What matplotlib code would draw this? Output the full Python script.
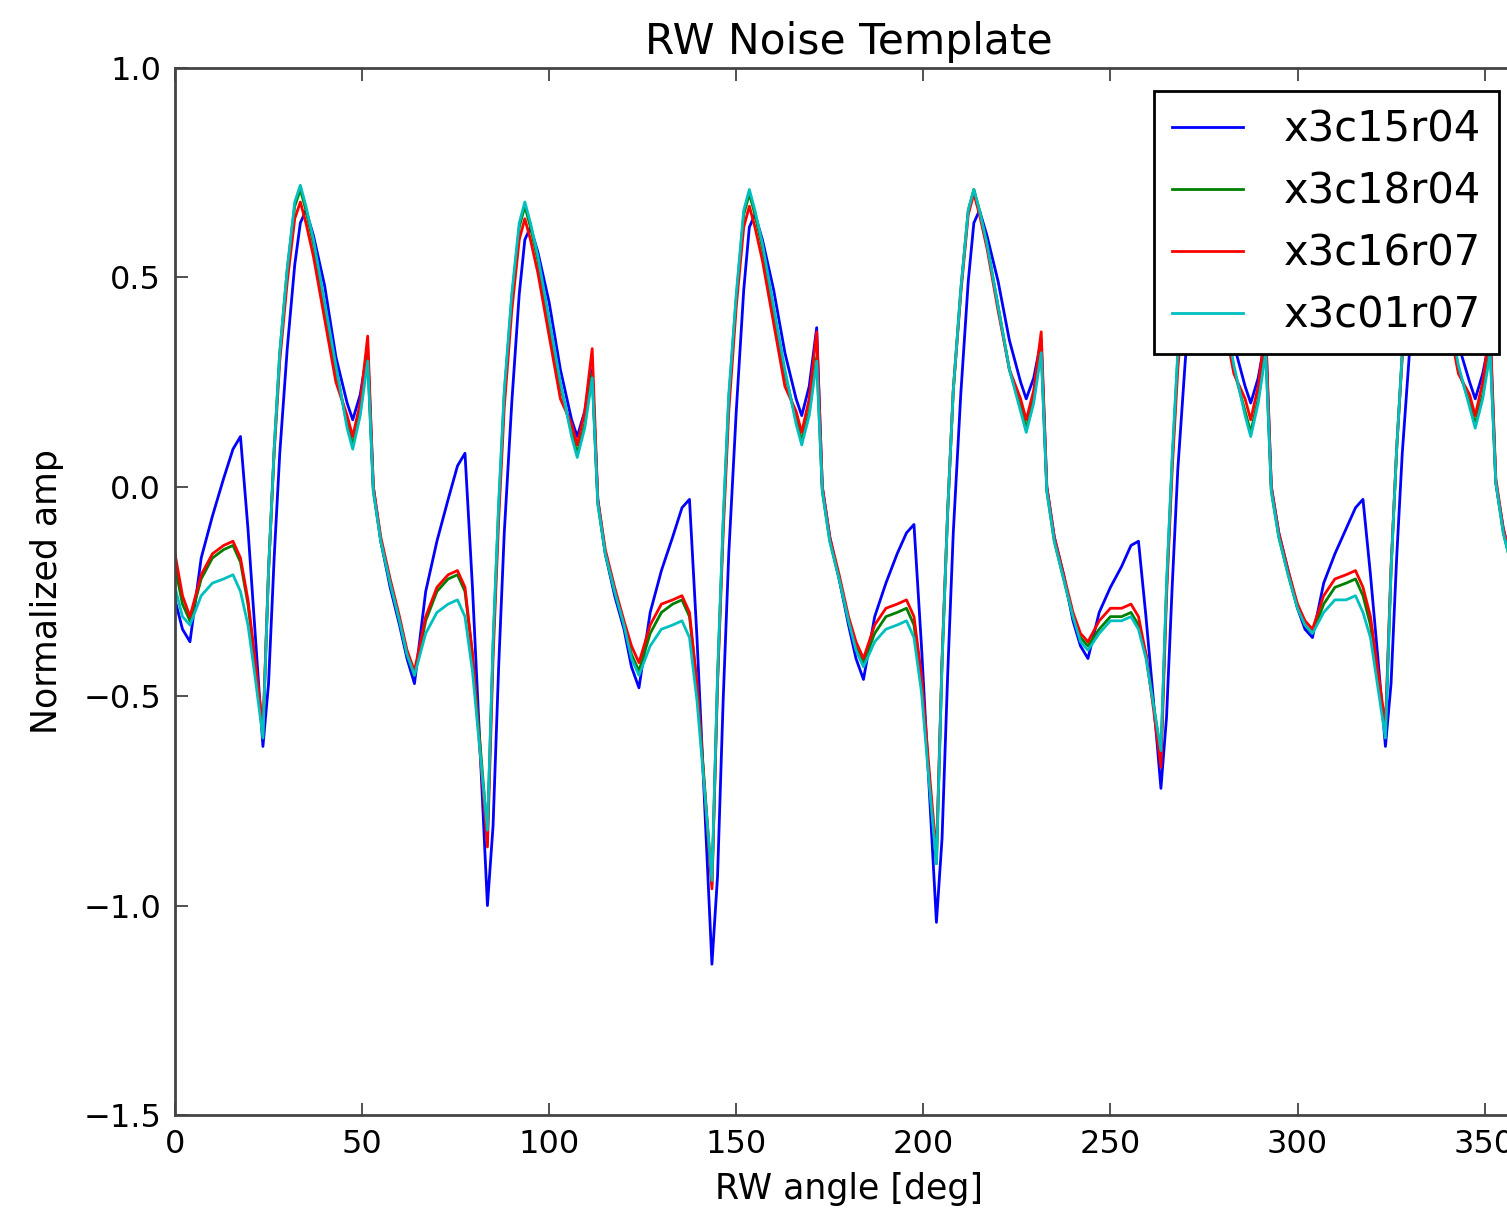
import matplotlib
matplotlib.use("Agg")
import matplotlib.pyplot as plt

# RW angle samples [deg]
angle = [
    0, 2, 4, 7, 10, 13, 15.5, 17.5, 19.5, 21.5, 23.5, 25, 26.5, 28, 30, 32, 33.5, 35, 37, 40, 43, 46, 47.5, 49.5, 51.5, 53, 55, 57.5,
    60, 62, 64, 67, 70, 73, 75.5, 77.5, 79.5, 81.5, 83.5, 85, 86.5, 88, 90, 92, 93.5, 95, 97, 100, 103, 106, 107.5, 109.5, 111.5, 113, 115, 117.5,
    120, 122, 124, 127, 130, 133, 135.5, 137.5, 139.5, 141.5, 143.5, 145, 146.5, 148, 150, 152, 153.5, 155, 157, 160, 163, 166, 167.5, 169.5, 171.5, 173, 175, 177.5,
    180, 182, 184, 187, 190, 193, 195.5, 197.5, 199.5, 201.5, 203.5, 205, 206.5, 208, 210, 212, 213.5, 215, 217, 220, 223, 226, 227.5, 229.5, 231.5, 233, 235, 237.5,
    240, 242, 244, 247, 250, 253, 255.5, 257.5, 259.5, 261.5, 263.5, 265, 266.5, 268, 270, 272, 273.5, 275, 277, 280, 283, 286, 287.5, 289.5, 291.5, 293, 295, 297.5,
    300, 302, 304, 307, 310, 313, 315.5, 317.5, 319.5, 321.5, 323.5, 325, 326.5, 328, 330, 332, 333.5, 335, 337, 340, 343, 346, 347.5, 349.5, 351.5, 353, 355, 357.5,
    360,
]

x3c15r04 = [
    -0.27, -0.34, -0.37, -0.17, -0.07, 0.02, 0.09, 0.12, -0.10, -0.36, -0.62, -0.47, -0.17, 0.08, 0.33, 0.53, 0.63, 0.66, 0.60, 0.48, 0.31, 0.20, 0.16, 0.22, 0.33, 0.00, -0.13, -0.24,
    -0.33, -0.41, -0.47, -0.25, -0.13, -0.03, 0.05, 0.08, -0.24, -0.62, -1.00, -0.81, -0.43, -0.11, 0.20, 0.46, 0.59, 0.62, 0.56, 0.44, 0.28, 0.16, 0.12, 0.18, 0.28, -0.03, -0.16, -0.26,
    -0.34, -0.43, -0.48, -0.30, -0.20, -0.12, -0.05, -0.03, -0.36, -0.75, -1.14, -0.93, -0.51, -0.16, 0.18, 0.47, 0.62, 0.65, 0.59, 0.47, 0.32, 0.21, 0.17, 0.24, 0.38, 0.00, -0.12, -0.22,
    -0.33, -0.41, -0.46, -0.31, -0.23, -0.16, -0.11, -0.09, -0.38, -0.71, -1.04, -0.84, -0.45, -0.11, 0.22, 0.49, 0.63, 0.66, 0.60, 0.49, 0.35, 0.25, 0.21, 0.26, 0.35, 0.00, -0.12, -0.21,
    -0.32, -0.38, -0.41, -0.30, -0.24, -0.19, -0.14, -0.13, -0.31, -0.51, -0.72, -0.55, -0.24, 0.04, 0.30, 0.52, 0.63, 0.66, 0.60, 0.48, 0.34, 0.24, 0.20, 0.26, 0.36, 0.00, -0.11, -0.20,
    -0.29, -0.34, -0.36, -0.23, -0.16, -0.10, -0.05, -0.03, -0.21, -0.41, -0.62, -0.47, -0.17, 0.08, 0.33, 0.53, 0.63, 0.66, 0.60, 0.48, 0.34, 0.25, 0.21, 0.27, 0.36, 0.01, -0.10, -0.19,
    -0.28,
]

x3c18r04 = [
    -0.19, -0.28, -0.32, -0.22, -0.17, -0.15, -0.14, -0.18, -0.28, -0.43, -0.59, -0.20, 0.09, 0.32, 0.52, 0.67, 0.71, 0.66, 0.58, 0.43, 0.28, 0.15, 0.10, 0.18, 0.31, -0.01, -0.13, -0.23,
    -0.32, -0.40, -0.45, -0.32, -0.25, -0.22, -0.21, -0.25, -0.40, -0.61, -0.83, -0.38, -0.05, 0.22, 0.45, 0.62, 0.67, 0.62, 0.54, 0.39, 0.24, 0.13, 0.08, 0.15, 0.27, -0.04, -0.16, -0.25,
    -0.33, -0.40, -0.44, -0.35, -0.30, -0.28, -0.27, -0.31, -0.47, -0.71, -0.95, -0.46, -0.09, 0.21, 0.45, 0.65, 0.70, 0.65, 0.57, 0.42, 0.27, 0.16, 0.11, 0.18, 0.31, -0.01, -0.13, -0.22,
    -0.32, -0.38, -0.42, -0.35, -0.31, -0.30, -0.29, -0.33, -0.47, -0.69, -0.90, -0.42, -0.06, 0.23, 0.47, 0.66, 0.71, 0.66, 0.58, 0.43, 0.28, 0.19, 0.14, 0.21, 0.33, -0.01, -0.13, -0.22,
    -0.31, -0.36, -0.38, -0.34, -0.31, -0.31, -0.30, -0.33, -0.40, -0.52, -0.64, -0.24, 0.06, 0.31, 0.51, 0.66, 0.71, 0.66, 0.58, 0.43, 0.28, 0.18, 0.13, 0.21, 0.33, -0.01, -0.12, -0.21,
    -0.29, -0.33, -0.35, -0.28, -0.24, -0.23, -0.22, -0.26, -0.33, -0.46, -0.59, -0.20, 0.09, 0.32, 0.52, 0.67, 0.71, 0.66, 0.58, 0.43, 0.28, 0.20, 0.15, 0.22, 0.33, 0.01, -0.11, -0.20,
    -0.28,
]

x3c16r07 = [
    -0.16, -0.26, -0.31, -0.21, -0.16, -0.14, -0.13, -0.17, -0.27, -0.42, -0.58, -0.20, 0.08, 0.30, 0.49, 0.64, 0.68, 0.63, 0.55, 0.40, 0.25, 0.17, 0.12, 0.20, 0.36, 0.00, -0.12, -0.22,
    -0.31, -0.39, -0.44, -0.31, -0.24, -0.21, -0.20, -0.24, -0.40, -0.63, -0.86, -0.41, -0.08, 0.19, 0.42, 0.59, 0.64, 0.59, 0.51, 0.36, 0.21, 0.15, 0.10, 0.18, 0.33, -0.03, -0.15, -0.24,
    -0.32, -0.38, -0.42, -0.33, -0.28, -0.27, -0.26, -0.30, -0.47, -0.72, -0.96, -0.47, -0.11, 0.18, 0.43, 0.62, 0.67, 0.62, 0.54, 0.39, 0.24, 0.18, 0.13, 0.21, 0.37, 0.00, -0.12, -0.21,
    -0.31, -0.37, -0.41, -0.33, -0.29, -0.28, -0.27, -0.31, -0.45, -0.67, -0.88, -0.41, -0.06, 0.23, 0.46, 0.65, 0.70, 0.65, 0.57, 0.42, 0.28, 0.21, 0.16, 0.23, 0.37, 0.00, -0.12, -0.21,
    -0.30, -0.35, -0.37, -0.32, -0.29, -0.29, -0.28, -0.31, -0.40, -0.53, -0.67, -0.26, 0.04, 0.28, 0.49, 0.64, 0.69, 0.64, 0.56, 0.41, 0.27, 0.21, 0.16, 0.24, 0.38, 0.00, -0.11, -0.20,
    -0.28, -0.32, -0.34, -0.26, -0.22, -0.21, -0.20, -0.24, -0.31, -0.44, -0.57, -0.19, 0.09, 0.31, 0.50, 0.65, 0.69, 0.64, 0.56, 0.41, 0.27, 0.22, 0.17, 0.25, 0.38, 0.02, -0.10, -0.19,
    -0.27,
]

x3c01r07 = [
    -0.24, -0.31, -0.33, -0.26, -0.23, -0.22, -0.21, -0.25, -0.33, -0.46, -0.60, -0.20, 0.09, 0.32, 0.52, 0.68, 0.72, 0.67, 0.59, 0.44, 0.29, 0.14, 0.09, 0.17, 0.30, -0.01, -0.13, -0.23,
    -0.32, -0.40, -0.45, -0.35, -0.30, -0.28, -0.27, -0.31, -0.44, -0.63, -0.82, -0.37, -0.04, 0.23, 0.46, 0.63, 0.68, 0.63, 0.55, 0.40, 0.25, 0.12, 0.07, 0.14, 0.26, -0.04, -0.16, -0.25,
    -0.33, -0.41, -0.45, -0.38, -0.34, -0.33, -0.32, -0.36, -0.51, -0.72, -0.94, -0.45, -0.08, 0.22, 0.46, 0.66, 0.71, 0.66, 0.58, 0.43, 0.28, 0.15, 0.10, 0.17, 0.30, -0.01, -0.13, -0.22,
    -0.32, -0.39, -0.43, -0.37, -0.34, -0.33, -0.32, -0.36, -0.49, -0.70, -0.90, -0.42, -0.06, 0.23, 0.47, 0.66, 0.71, 0.66, 0.58, 0.43, 0.28, 0.18, 0.13, 0.20, 0.32, -0.01, -0.13, -0.22,
    -0.31, -0.37, -0.39, -0.35, -0.32, -0.32, -0.31, -0.34, -0.41, -0.52, -0.63, -0.23, 0.07, 0.32, 0.52, 0.67, 0.72, 0.67, 0.59, 0.44, 0.29, 0.17, 0.12, 0.20, 0.32, -0.01, -0.12, -0.21,
    -0.29, -0.33, -0.35, -0.30, -0.27, -0.27, -0.26, -0.30, -0.36, -0.48, -0.60, -0.20, 0.09, 0.32, 0.52, 0.68, 0.72, 0.67, 0.59, 0.44, 0.29, 0.19, 0.14, 0.21, 0.32, 0.01, -0.11, -0.20,
    -0.28,
]

series_names = ["x3c15r04", "x3c18r04", "x3c16r07", "x3c01r07"]
series_values = [x3c15r04, x3c18r04, x3c16r07, x3c01r07]
series_colors = ["#0000ff", "#008000", "#ff0000", "#00bfbf"]

xticks = [0, 50, 100, 150, 200, 250, 300, 350]
yticks = [-1.5, -1.0, -0.5, 0.0, 0.5, 1.0]

plt.rcParams['font.family'] = ['DejaVu Sans']
plt.rcParams['axes.unicode_minus'] = True

fig = plt.figure(figsize=(15.07, 12.08), dpi=100)
W, H = 1507.0, 1208.0
left, right, top, bottom = 175, 1522, 68, 1115
ax = fig.add_axes([left / W, 1 - bottom / H, (right - left) / W, (bottom - top) / H])

for name, vals, col in zip(series_names, series_values, series_colors):
    ax.plot(angle, vals, color=col, lw=2.0, label=name, solid_joinstyle='round')

ax.set_xlim(0, 360)
ax.set_ylim(-1.5, 1.0)
ax.set_xticks(xticks)
ax.set_yticks(yticks)
ax.set_yticklabels(["\u22121.5", "\u22121.0", "\u22120.5", "0.0", "0.5", "1.0"])
ax.tick_params(direction='in', length=9, width=1.2, labelsize=23, pad=10,
               top=True, right=True, color='#333333')
for s in ax.spines.values():
    s.set_linewidth(2.0)
    s.set_color('#444444')

ax.set_title("RW Noise Template", fontsize=30.5, pad=10)
ax.set_xlabel("RW angle [deg]", fontsize=25, labelpad=9)
ax.set_ylabel("Normalized amp", fontsize=25, labelpad=14)

leg = ax.legend(loc='upper right', fontsize=30, handlelength=1.7, handletextpad=1.0,
                labelspacing=0.48, borderpad=0.42, fancybox=False, framealpha=1.0,
                borderaxespad=0.55)
leg.get_frame().set_edgecolor('black')
leg.get_frame().set_linewidth(2.0)

fig.savefig("out.png", dpi=100)
